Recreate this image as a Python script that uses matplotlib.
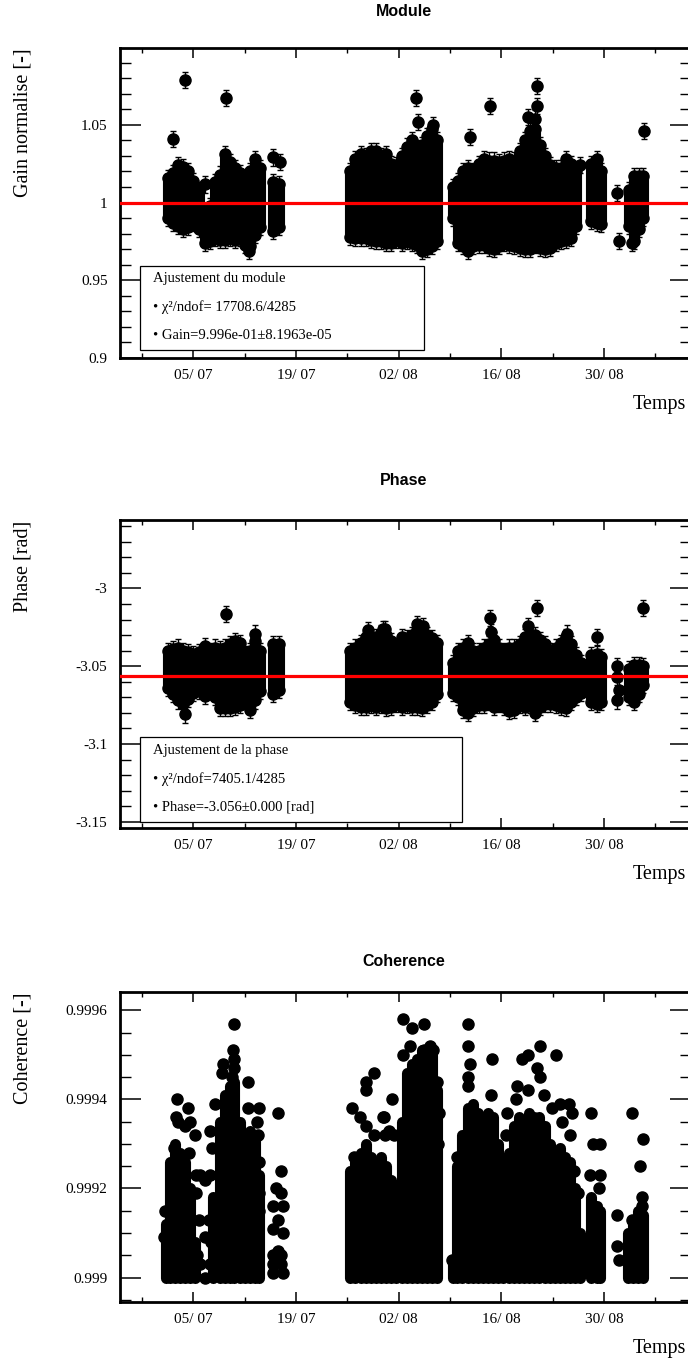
import datetime as dt
import numpy as np
import matplotlib
matplotlib.use('Agg')
import matplotlib.pyplot as plt
import matplotlib.dates as mdates
from matplotlib.ticker import FixedLocator, MultipleLocator, FuncFormatter
from matplotlib.patches import Rectangle

# ---- data (days counted from 01/07) ----
BASE = dt.datetime(2011, 7, 1)
TICK_DATES = ['2011-07-05', '2011-07-19', '2011-08-02', '2011-08-16', '2011-08-30']
MINOR_DATES = ['2011-06-28', '2011-07-12', '2011-07-26', '2011-08-09', '2011-08-23', '2011-09-06']

# Module: dense groups (day, lowest, highest) + isolated points
MOD_COL_DAY = [0.5, 1.2, 1.9, 2.6, 3.3, 4.0, 4.7, 5.6, 6.3,
               7.0, 7.6, 8.3, 9.0, 9.7, 10.4, 11.0, 11.7, 12.4, 13.1,
               14.8, 15.7,
               25.4, 26.1, 26.8, 27.5, 28.2, 28.9, 29.6, 30.3, 31.0, 31.7, 32.4, 33.1, 33.8,
               34.5, 35.2, 35.9, 36.6, 37.3,
               39.4, 40.1, 40.8, 41.5, 42.2, 42.9, 43.6, 44.3, 45.0, 45.7, 46.4, 47.1, 47.8,
               48.5, 49.2, 49.9, 50.6, 51.3, 52.0, 52.7, 53.4, 54.1, 54.8, 55.5, 56.2,
               58.3, 59.0, 59.6,
               63.4, 64.1, 64.8, 65.4]
MOD_COL_LO = [0.990, 0.987, 0.985, 0.983, 0.984, 0.987, 0.983, 0.974, 0.975,
              0.977, 0.976, 0.976, 0.977, 0.976, 0.977, 0.973, 0.972, 0.979, 0.984,
              0.982, 0.984,
              0.978, 0.977, 0.977, 0.977, 0.976, 0.975, 0.975, 0.974, 0.974, 0.976, 0.974, 0.975, 0.974,
              0.973, 0.969, 0.970, 0.972, 0.975,
              0.990, 0.974, 0.972, 0.969, 0.972, 0.973, 0.973, 0.971, 0.970, 0.972, 0.974, 0.973, 0.972,
              0.971, 0.970, 0.970, 0.973, 0.971, 0.970, 0.971, 0.974, 0.975, 0.976, 0.977, 0.985,
              0.988, 0.987, 0.986,
              0.985, 0.975, 0.983, 0.990]
MOD_COL_HI = [1.016, 1.019, 1.024, 1.023, 1.020, 1.014, 1.008, 0.990, 0.998,
              1.013, 1.018, 1.031, 1.026, 1.022, 1.019, 1.015, 1.020, 1.028, 1.022,
              1.013, 1.012,
              1.020, 1.028, 1.031, 1.030, 1.033, 1.033, 1.030, 1.031, 1.025, 1.024, 1.030, 1.036, 1.040,
              1.035, 1.037, 1.043, 1.047, 1.040,
              1.010, 1.014, 1.020, 1.022, 1.020, 1.025, 1.028, 1.027, 1.027, 1.026, 1.027, 1.028, 1.027,
              1.033, 1.040, 1.046, 1.047, 1.037, 1.030, 1.024, 1.022, 1.022, 1.028, 1.025, 1.020,
              1.025, 1.028, 1.020,
              1.008, 1.017, 1.017, 1.017]
MOD_PT_DAY = [1.24, 2.87, 5.6, 8.4, 11.6, 14.9, 15.8, 34.3, 34.6, 36.7,
              41.8, 44.5, 49.6, 50.6, 50.9, 50.9, 56.8, 61.8, 62.0, 63.9, 65.5]
MOD_PT_VAL = [1.0406, 1.0789, 1.0116, 1.067, 0.969, 1.029, 1.026, 1.067, 1.052, 1.050,
              1.042, 1.062, 1.055, 1.054, 1.075, 1.062, 1.024, 1.006, 0.975, 0.974, 1.046]
MOD_ERR = 0.0052
GAIN_FIT = 0.9996
MOD_BOX = ['Ajustement du module', '\u2022 \u03c7\u00b2/ndof= 17708.6/4285',
           '\u2022 Gain=9.996e-01\u00b18.1963e-05']

# Phase
PHA_COL_DAY = [0.5, 1.2, 1.9, 2.6, 3.3, 4.0, 4.7, 5.6, 6.3,
               7.0, 7.6, 8.3, 9.0, 9.7, 10.4, 11.0, 11.7, 12.4, 13.1,
               14.8, 15.7,
               25.4, 26.1, 26.8, 27.5, 28.2, 28.9, 29.6, 30.3, 31.0, 31.7, 32.4, 33.1, 33.8,
               34.5, 35.2, 35.9, 36.6, 37.3,
               39.4, 40.1, 40.8, 41.5, 42.2, 42.9, 43.6, 44.3, 45.0, 45.7, 46.4, 47.1, 47.8,
               48.5, 49.2, 49.9, 50.6, 51.3, 52.0, 52.7, 53.4, 54.1, 54.8, 55.5, 56.2, 56.9,
               58.3, 59.0, 59.6,
               63.4, 64.1, 64.8, 65.4]
PHA_COL_LO = [-3.064, -3.068, -3.072, -3.074, -3.071, -3.067, -3.066, -3.069, -3.066,
              -3.070, -3.077, -3.077, -3.077, -3.076, -3.075, -3.072, -3.074, -3.072, -3.066,
              -3.068, -3.065,
              -3.073, -3.075, -3.076, -3.076, -3.075, -3.076, -3.075, -3.077, -3.076, -3.074, -3.076, -3.075, -3.076,
              -3.076, -3.077, -3.075, -3.073, -3.068,
              -3.067, -3.070, -3.078, -3.080, -3.077, -3.075, -3.075, -3.073, -3.076, -3.074, -3.076, -3.079, -3.078,
              -3.075, -3.076, -3.075, -3.080, -3.076, -3.074, -3.074, -3.075, -3.076, -3.077, -3.073, -3.070, -3.067,
              -3.073, -3.074, -3.073,
              -3.070, -3.073, -3.068, -3.062]
PHA_COL_HI = [-3.040, -3.039, -3.038, -3.040, -3.041, -3.042, -3.041, -3.037, -3.040,
              -3.038, -3.039, -3.038, -3.036, -3.034, -3.035, -3.042, -3.040, -3.034, -3.040,
              -3.036, -3.036,
              -3.040, -3.038, -3.035, -3.031, -3.034, -3.031, -3.029, -3.030, -3.034, -3.037, -3.031, -3.032, -3.030,
              -3.027, -3.028, -3.030, -3.032, -3.035,
              -3.048, -3.040, -3.038, -3.035, -3.040, -3.040, -3.038, -3.036, -3.033, -3.038, -3.040, -3.038, -3.038,
              -3.036, -3.031, -3.030, -3.030, -3.033, -3.036, -3.040, -3.038, -3.035, -3.031, -3.036, -3.043, -3.048,
              -3.043, -3.042, -3.044,
              -3.052, -3.049, -3.049, -3.050]
PHA_PT_DAY = [2.9, 8.4, 11.7, 12.4, 27.8, 29.9, 30.2, 34.5, 35.3,
              44.5, 44.6, 49.6, 50.9, 55.0, 59.1, 61.8, 61.8, 62.0, 61.8, 65.4]
PHA_PT_VAL = [-3.081, -3.0165, -3.078, -3.029, -3.027, -3.026, -3.026, -3.023, -3.024,
              -3.019, -3.028, -3.024, -3.0125, -3.029, -3.031, -3.050, -3.057, -3.065, -3.072, -3.0125]
PHA_ERR = 0.0052
PHASE_FIT = -3.056
PHA_BOX = ['Ajustement de la phase', '\u2022 \u03c7\u00b2/ndof=7405.1/4285',
           '\u2022 Phase=-3.056\u00b10.000 [rad]']

# Coherence: dense groups from the 0.999 floor up to the given top + isolated points
COH_FLOOR = 0.999
COH_COL_DAY = [0.2, 0.8, 1.5, 2.2, 2.9, 3.5, 4.2,
               6.7, 7.6, 8.3, 9.0, 9.6, 10.3, 11.0, 11.7, 12.4, 13.0,
               25.4, 26.1, 26.8, 27.5, 28.2, 28.9, 29.6, 30.3, 31.0, 31.7, 32.4, 33.1, 33.8,
               34.5, 35.2, 35.9, 36.6, 37.3,
               39.4, 40.0, 40.7, 41.4, 42.1, 42.8, 43.5, 44.2, 44.9, 45.6, 46.3, 47.0, 47.7,
               48.4, 49.1, 49.8, 50.5, 51.2, 51.9, 52.6, 53.3, 54.0, 54.7, 55.4, 56.1, 56.7,
               58.3, 59.0, 59.5,
               63.3, 64.0, 64.7, 65.3]
COH_COL_HI = [0.99912, 0.99926, 0.99930, 0.99928, 0.99926, 0.99920, 0.99908,
              0.99918, 0.99935, 0.99941, 0.99943, 0.99944, 0.99935, 0.99930, 0.99933, 0.99932, 0.99923,
              0.99924, 0.99926, 0.99928, 0.99930, 0.99927, 0.99925, 0.99927, 0.99925, 0.99922, 0.99918,
              0.99935, 0.99946, 0.99948, 0.99949, 0.99951, 0.99951, 0.99950, 0.99942,
              0.99904, 0.99925, 0.99932, 0.99938, 0.99939, 0.99937, 0.99936, 0.99937, 0.99936, 0.99930,
              0.99926, 0.99928, 0.99934, 0.99936, 0.99935, 0.99937, 0.99936, 0.99936, 0.99934, 0.99930,
              0.99928, 0.99929, 0.99927, 0.99926, 0.99920, 0.99910,
              0.99918, 0.99916, 0.99915,
              0.99910, 0.99912, 0.99915, 0.99914]
COH_PT_DAY = [1.8, 3.2, 1.9, 1.6, 2.9, 3.6, 4.2, 1.4, 3.4, 1.0, 4.3, 4.9, 5.6, 6.3, 4.4, 4.7,
              5.6, 4.5, 4.9, 5.6, 4.0, 6.1, 0.1, 0.0,
              9.5, 9.4, 9.5, 9.6, 8.1, 7.9, 11.5, 9.3, 7.0, 6.3, 6.5, 12.9, 11.5, 12.7, 12.8,
              12.9, 12.9, 12.9, 6.2, 6.4, 6.3,
              15.5, 16.0, 15.3, 16.0, 14.9, 16.2, 15.6, 14.9, 16.2, 15.6, 14.9, 16.0, 14.9,
              16.0, 14.9, 16.2,
              25.6, 26.7, 27.6, 27.6, 27.6, 28.7, 31.1, 30.0, 30.2, 25.9, 28.6, 29.9, 31.3,
              30.7, 32.6, 33.8, 35.5, 32.6, 33.6, 35.4, 36.3, 36.7, 37.2, 37.5, 37.4,
              41.5, 41.5, 41.7, 41.4, 41.5, 44.8, 44.6, 48.8, 49.7, 51.3, 53.5, 50.9, 51.3,
              48.1, 49.7, 51.8, 52.9, 46.8, 48.0, 54.0, 55.2, 55.6, 54.3, 55.4, 46.6, 55.9,
              56.5, 56.8, 56.8, 39.9, 39.3,
              58.2, 58.5, 59.5, 58.1, 59.5, 59.3, 61.8, 61.8, 62.0,
              63.8, 65.3, 64.9, 65.2, 65.2, 63.8]
COH_PT_VAL = [0.99940, 0.99938, 0.99935, 0.99936, 0.99934, 0.99935, 0.99932, 0.99929, 0.99928,
              0.99924, 0.99923, 0.99923, 0.99922, 0.99923, 0.99919, 0.99913, 0.99909, 0.99905,
              0.99903, 0.99900, 0.99901, 0.99913, 0.99915, 0.99909,
              0.99957, 0.99951, 0.99949, 0.99947, 0.99948, 0.99946, 0.99944, 0.99945, 0.99939,
              0.99933, 0.99929, 0.99938, 0.99938, 0.99935, 0.99932, 0.99926, 0.99919, 0.99915,
              0.99913, 0.99908, 0.99903,
              0.99937, 0.99924, 0.99920, 0.99919, 0.99916, 0.99916, 0.99913, 0.99911, 0.99910,
              0.99906, 0.99905, 0.99905, 0.99903, 0.99903, 0.99901, 0.99901,
              0.99938, 0.99936, 0.99934, 0.99944, 0.99942, 0.99946, 0.99940, 0.99936, 0.99932,
              0.99927, 0.99932, 0.99936, 0.99932, 0.99933, 0.99958, 0.99956, 0.99957, 0.99950,
              0.99952, 0.99951, 0.99952, 0.99951, 0.99944, 0.99937, 0.99930,
              0.99957, 0.99952, 0.99948, 0.99945, 0.99943, 0.99949, 0.99941, 0.99949, 0.99950,
              0.99952, 0.99950, 0.99947, 0.99945, 0.99943, 0.99942, 0.99941, 0.99938, 0.99937,
              0.99940, 0.99939, 0.99939, 0.99937, 0.99935, 0.99932, 0.99932, 0.99924, 0.99919,
              0.99904, 0.99901, 0.99927, 0.99904,
              0.99937, 0.99930, 0.99930, 0.99923, 0.99923, 0.99920, 0.99914, 0.99907, 0.99904,
              0.99937, 0.99931, 0.99925, 0.99918, 0.99916, 0.99913]

# ---- figure ----
plt.rcParams['font.family'] = ['Liberation Serif', 'DejaVu Serif']
W, H = 688, 1362
fig = plt.figure(figsize=(W / 100, H / 100), dpi=100)
MS = 8.0  # marker diameter in points


def day_num(days):
    return mdates.date2num(BASE) + np.asarray(days, dtype=float)


def make_axes(top_px, bot_px):
    ax = fig.add_axes([120 / W, 1 - bot_px / H, 571 / W, (bot_px - top_px) / H])
    ax.set_xlim(day_num(-6.01), day_num(71.88))
    ax.xaxis.set_major_locator(FixedLocator(mdates.datestr2num(TICK_DATES)))
    ax.xaxis.set_minor_locator(FixedLocator(mdates.datestr2num(MINOR_DATES)))
    ax.xaxis.set_major_formatter(mdates.DateFormatter('%d/ %m'))
    ax.yaxis.set_major_formatter(FuncFormatter(lambda v, p: f'{v:g}'))
    ax.tick_params(axis='y', which='major', direction='in', length=15, width=1.1,
                   left=True, right=True, labelsize=11, pad=9)
    ax.tick_params(axis='y', which='minor', direction='in', length=8, width=1.0,
                   left=True, right=True)
    ax.tick_params(axis='x', which='major', direction='in', length=7, width=1.1,
                   top=True, bottom=True, labelsize=11, pad=8)
    ax.tick_params(axis='x', which='minor', direction='in', length=3.5, width=1.0,
                   top=True, bottom=True)
    for s in ax.spines.values():
        s.set_linewidth(2.0)
    return ax


def fit_box(ax, lines, x0, y0, w, h, ys):
    ax.add_patch(Rectangle((x0, y0), w, h, transform=ax.transAxes, fc='white',
                           ec='black', lw=0.9, zorder=6))
    for txt, yy in zip(lines, ys):
        ax.text(x0 + 0.023, yy, txt, transform=ax.transAxes, fontsize=10.5,
                va='center', ha='left', zorder=7)


def error_cloud(ax, cday, clo, chi, pday, pval, err, fit):
    xc = day_num(cday)
    ax.vlines(xc, clo, chi, colors='black', linewidth=MS, capstyle='round', zorder=2)
    xs = np.concatenate([xc, xc, day_num(pday)])
    ys = np.concatenate([clo, chi, pval])
    ax.errorbar(xs, ys, yerr=err, fmt='o', color='black', ms=MS, elinewidth=1.0,
                capsize=2.5, capthick=1.0, zorder=3)
    ax.axhline(fit, color='#ff0000', lw=2.3, zorder=5)


# Module
ax1 = make_axes(48, 358)
ax1.set_ylim(0.9, 1.0994)
ax1.yaxis.set_major_locator(MultipleLocator(0.05))
ax1.yaxis.set_minor_locator(MultipleLocator(0.01))
error_cloud(ax1, MOD_COL_DAY, MOD_COL_LO, MOD_COL_HI, MOD_PT_DAY, MOD_PT_VAL, MOD_ERR, GAIN_FIT)
fit_box(ax1, MOD_BOX, 0.035, 0.026, 0.497, 0.271, [0.255, 0.165, 0.071])

# Phase
ax2 = make_axes(520, 828)
ax2.set_ylim(-3.154, -2.956)
ax2.yaxis.set_major_locator(MultipleLocator(0.05))
ax2.yaxis.set_minor_locator(MultipleLocator(0.01))
error_cloud(ax2, PHA_COL_DAY, PHA_COL_LO, PHA_COL_HI, PHA_PT_DAY, PHA_PT_VAL, PHA_ERR, PHASE_FIT)
fit_box(ax2, PHA_BOX, 0.035, 0.019, 0.564, 0.276, [0.253, 0.159, 0.068])

# Coherence
ax3 = make_axes(992, 1302)
ax3.set_ylim(0.998945, 0.999641)
ax3.yaxis.set_major_locator(MultipleLocator(0.0002))
ax3.yaxis.set_minor_locator(MultipleLocator(0.00005))
ax3.vlines(day_num(COH_COL_DAY), COH_FLOOR, COH_COL_HI, colors='black', linewidth=MS,
           capstyle='round', zorder=2)
ax3.plot(day_num(COH_PT_DAY), COH_PT_VAL, 'o', color='black', ms=MS, zorder=3)

# titles and axis labels
title_font = ['Liberation Sans Narrow', 'Liberation Sans', 'DejaVu Sans']
for name, ypx in [('Module', 12), ('Phase', 480), ('Coherence', 962)]:
    fig.text(404 / W, 1 - ypx / H, name, ha='center', va='center', fontsize=11.5,
             fontweight='bold', family=title_font)
for name, ypx in [('Gain normalise [-]', 48), ('Phase [rad]', 521), ('Coherence [-]', 992)]:
    fig.text(23 / W, 1 - ypx / H, name, ha='center', va='top', rotation=90, fontsize=14.5)
for ypx in [405, 875, 1349]:
    fig.text(686 / W, 1 - ypx / H, 'Temps', ha='right', va='center', fontsize=14.5)

fig.savefig('out.png', dpi=100)
